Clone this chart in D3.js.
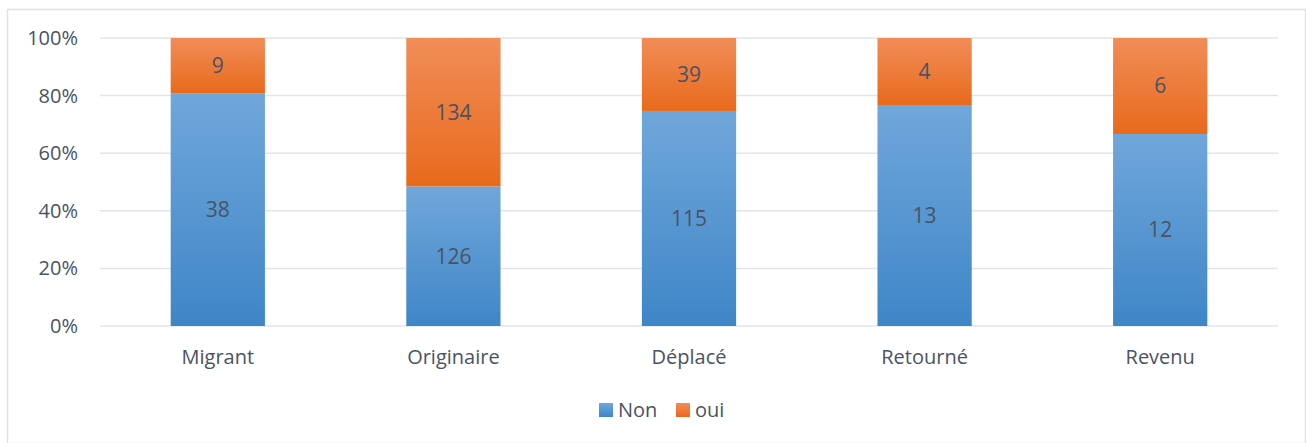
<!DOCTYPE html>
<html>
<head>
<meta charset="utf-8">
<script src="https://cdn.jsdelivr.net/npm/d3@7"></script>
<style>
  body { margin: 0; background: #fff; }
  svg text { font-family: "Open Sans", "Noto Sans", sans-serif; fill: #4a5363; }
</style>
</head>
<body>
<svg id="chart" width="1306" height="443"></svg>
<script>
const categories = ['Migrant', 'Originaire', 'Déplacé', 'Retourné', 'Revenu'];
const nonValues = [38, 126, 115, 13, 12];
const ouiValues = [9, 134, 39, 4, 6];
const seriesNames = ['Non', 'oui'];
const yTicks = [0, 0.2, 0.4, 0.6, 0.8, 1];

const svg = d3.select('#chart');
const m = { t: 38, r: 28, b: 117, l: 100 };
const W = 1306, H = 443;
const w = W - m.l - m.r, h = H - m.t - m.b;

// chart frame
svg.append('rect')
    .attr('x', 7.5).attr('y', 9.5)
    .attr('width', W - 8).attr('height', H - 9)
    .attr('fill', 'none').attr('stroke', '#dfe3e8').attr('stroke-width', 1.5);

const defs = svg.append('defs');
function grad(id, c1, c2) {
  const g = defs.append('linearGradient').attr('id', id)
      .attr('x1', 0).attr('y1', 0).attr('x2', 0).attr('y2', 1);
  g.append('stop').attr('offset', '0%').attr('stop-color', c1);
  g.append('stop').attr('offset', '100%').attr('stop-color', c2);
}
grad('gNon', '#70a7db', '#3f86c7');
grad('gOui', '#f18d58', '#e86a1c');

const g = svg.append('g').attr('transform', `translate(${m.l},${m.t})`);

const x = d3.scaleBand().domain(categories).range([0, w])
    .paddingInner(0.6).paddingOuter(0.3);
const y = d3.scaleLinear().domain([0, 1]).range([h, 0]);

// grid
g.append('g').selectAll('line').data(yTicks).join('line')
    .attr('x1', 0).attr('x2', w)
    .attr('y1', d => y(d)).attr('y2', d => y(d))
    .attr('stroke', '#e1e5ea').attr('stroke-width', 1.5);

g.append('g').selectAll('text').data(yTicks).join('text')
    .attr('x', -22).attr('y', d => y(d))
    .attr('dy', '0.35em')
    .attr('text-anchor', 'end')
    .style('font-size', '20px')
    .text(d => d3.format('.0%')(d));

const rows = categories.map((c, i) => {
  const tot = nonValues[i] + ouiValues[i];
  return { c, non: nonValues[i], oui: ouiValues[i], pn: nonValues[i] / tot };
});

const bars = g.append('g').selectAll('g').data(rows).join('g');

bars.append('rect')
    .attr('x', d => x(d.c)).attr('width', x.bandwidth())
    .attr('y', d => y(d.pn)).attr('height', d => y(0) - y(d.pn))
    .attr('fill', 'url(#gNon)');
bars.append('rect')
    .attr('x', d => x(d.c)).attr('width', x.bandwidth())
    .attr('y', y(1)).attr('height', d => y(d.pn) - y(1))
    .attr('fill', 'url(#gOui)');

bars.append('text')
    .attr('x', d => x(d.c) + x.bandwidth() / 2)
    .attr('y', d => y(d.pn / 2)).attr('dy', '0.35em')
    .attr('text-anchor', 'middle').style('font-size', '21px')
    .text(d => d.non);
bars.append('text')
    .attr('x', d => x(d.c) + x.bandwidth() / 2)
    .attr('y', d => y((1 + d.pn) / 2)).attr('dy', '0.35em')
    .attr('text-anchor', 'middle').style('font-size', '21px')
    .text(d => d.oui);

// x labels
g.append('g').selectAll('text').data(categories).join('text')
    .attr('x', d => x(d) + x.bandwidth() / 2)
    .attr('y', h + 31).attr('dy', '0.35em')
    .attr('text-anchor', 'middle').style('font-size', '20px')
    .text(d => d);

// legend
const legend = svg.append('g').attr('transform', 'translate(599,410)');
const items = [
  { name: seriesNames[0], fill: 'url(#gNon)', x: 0 },
  { name: seriesNames[1], fill: 'url(#gOui)', x: 77 }
];
const li = legend.selectAll('g').data(items).join('g')
    .attr('transform', d => `translate(${d.x},0)`);
li.append('rect').attr('x', 0).attr('y', -7).attr('width', 14).attr('height', 14)
    .attr('fill', d => d.fill);
li.append('text').attr('x', 19).attr('dy', '0.35em').style('font-size', '20px')
    .text(d => d.name);
</script>
</body>
</html>
